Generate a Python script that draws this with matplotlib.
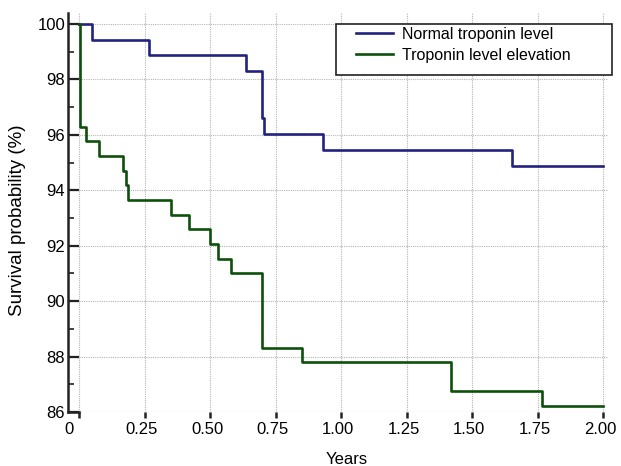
import matplotlib
matplotlib.use("Agg")
import matplotlib.pyplot as plt
from matplotlib.ticker import FixedLocator
from matplotlib.patches import Rectangle
import matplotlib.transforms as mtransforms

plt.rcParams['font.family'] = ['Liberation Sans', 'DejaVu Sans']

# Kaplan-Meier step data (time in years, survival %)
normal_t = [0.0, 0.048, 0.267, 0.637, 0.700, 0.707, 0.932, 1.652, 2.0]
normal_s = [100.0, 99.44, 98.87, 98.30, 96.60, 96.03, 95.46, 94.88, 94.88]

elev_t = [0.0, 0.004, 0.027, 0.078, 0.167, 0.179, 0.188, 0.350, 0.421, 0.500,
          0.531, 0.581, 0.700, 0.850, 1.419, 1.768, 2.0]
elev_s = [100.0, 96.30, 95.77, 95.24, 94.71, 94.18, 93.65, 93.12, 92.59, 92.06,
          91.53, 91.00, 88.31, 87.80, 86.74, 86.21, 86.21]

x_ticks = [0, 0.25, 0.50, 0.75, 1.00, 1.25, 1.50, 1.75, 2.00]
x_labels = ["0", "0.25", "0.50", "0.75", "1.00", "1.25", "1.50", "1.75", "2.00"]
y_ticks = [86, 88, 90, 92, 94, 96, 98, 100]

blue = "#22227f"
green = "#0c500c"

W, H = 621, 466
fig = plt.figure(figsize=(W / 100, H / 100), dpi=100)
ax = fig.add_axes([68 / W, 54 / H, (608 - 68) / W, (453 - 54) / H])

ax.step(normal_t, normal_s, where="post", color=blue, lw=1.9,
        label="Normal troponin level", zorder=3)
ax.step(elev_t, elev_s, where="post", color=green, lw=1.9,
        label="Troponin level elevation", zorder=3)

ax.set_xlim(-0.042, 2.019)
ax.set_ylim(86, 100.4)

ax.set_xticks(x_ticks)
ax.set_xticklabels(x_labels)
ax.set_yticks(y_ticks)
ax.yaxis.set_minor_locator(FixedLocator([87, 89, 91, 93, 95, 97, 99]))

ax.grid(True, which="major", color="#b4b4b4", linestyle=(0, (1, 1)), lw=0.8, zorder=0)

for s in ["top", "right"]:
    ax.spines[s].set_visible(False)
ax.spines["left"].set_linewidth(1.8)
ax.spines["left"].set_color("#222222")
ax.spines["bottom"].set_linewidth(1.8)
ax.spines["bottom"].set_color("#222222")
ax.spines["bottom"].set_bounds(-0.042, 0.0)

ax.tick_params(axis="y", which="major", direction="in", length=8, width=1.6,
               color="#222222", labelsize=12, pad=2)
ax.tick_params(axis="y", which="minor", direction="in", length=4, width=1.2,
               color="#222222")
ax.tick_params(axis="x", which="major", direction="out", length=4, width=1.8,
               color="#222222", labelsize=12, pad=3)

# shift x tick labels slightly left as in the reference
for i, lbl in enumerate(ax.get_xticklabels()):
    dx = -10 if i == 0 else -3
    off = mtransforms.ScaledTranslation(dx / 100, 0, fig.dpi_scale_trans)
    lbl.set_transform(lbl.get_transform() + off)

fig.text(347 / W, 1 - 459 / H, "Years", fontsize=12, ha="center", va="center")
fig.text(18 / W, 1 - 220 / H, "Survival probability (%)", fontsize=13.5,
         rotation=90, ha="center", va="center")

# legend (frame drawn separately to match the reference's wide box)
leg = ax.legend(loc="upper left", bbox_to_anchor=(356 / W, 1 - 27 / H),
                bbox_transform=fig.transFigure, fontsize=11.5, frameon=False,
                borderpad=0, handlelength=2.3, labelspacing=0.35,
                handletextpad=0.55, borderaxespad=0)
frame = Rectangle((336 / W, 1 - 75 / H), (612 - 336) / W, (75 - 24) / H,
                  transform=fig.transFigure, facecolor="white",
                  edgecolor="#222222", lw=1.2, zorder=4)
fig.add_artist(frame)
leg.set_zorder(5)
fig.add_artist(leg)

fig.savefig("out.png", dpi=100)
